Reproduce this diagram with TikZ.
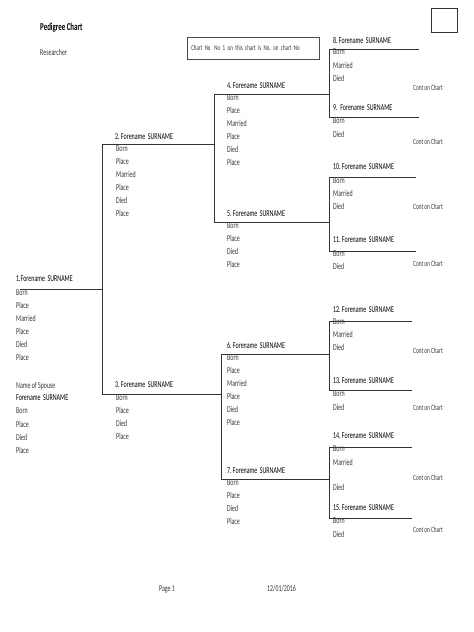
\documentclass[tikz,border=0pt]{standalone}
\usepackage{fontspec}
\setmainfont{Carlito}
\newfontfamily\narrowfont[FakeStretch=0.66, WordSpace=0.95]{Carlito}
\frenchspacing
\usetikzlibrary{positioning}

\begin{document}
\begin{tikzpicture}[x=1pt, y=-1pt,
    pname/.style={anchor=west, inner sep=0pt, text=black,
                  font=\narrowfont\fontsize{9}{11}\selectfont},
    pinfo/.style={anchor=west, inner sep=0pt, text=black!78,
                  font=\narrowfont\fontsize{9}{11}\selectfont},
    cont/.style={pinfo, font=\narrowfont\fontsize{8}{10}\selectfont},
    link/.style={draw=black!80, line width=1pt}
]
    \useasboundingbox[fill=white] (0,0) rectangle (474,632);

    % heading
    \node[pname, font=\narrowfont\bfseries\fontsize{10.5}{12}\selectfont] (title) at (40,28) {Pedigree Chart};
    \node[pinfo] (researcher) at (40,52) {Researcher};
    \node[draw=black!70, line width=.6pt, anchor=north west, minimum width=132pt,
          minimum height=22pt, inner xsep=4pt, text width=124pt, text=black!80,
          font=\narrowfont\fontsize{7.5}{9}\selectfont] (chartno) at (187,37)
          {Chart No\enspace No 1 on this chart is No. on chart No};
    \node[draw=black!80, line width=.8pt, anchor=north west, minimum width=26pt,
          minimum height=24pt, inner sep=0pt] (stamp) at (431,8) {};

    % person lines
    \foreach \n/\xa/\xb/\y in {1/20/102/289, 2/102/214/144, 3/102/221/394,
        4/214/329/94, 5/214/329/222, 6/221/329/354, 7/221/329/479,
        8/329/419/49, 9/329/419/117, 10/329/416/177, 11/329/416/251,
        12/329/412/321, 13/329/412/390, 14/329/412/447, 15/329/412/518} {
        \coordinate (s\n) at (\xa,\y);
        \coordinate (e\n) at (\xb,\y);
        \draw[link] (s\n) -- (e\n);
    }

    % parent links
    \draw[link] (s2)  -- (s3);
    \draw[link] (s4)  -- (s5);
    \draw[link] (s6)  -- (s7);
    \draw[link] (s8)  -- (s9);
    \draw[link] (s10) -- (s11);
    \draw[link] (s12) -- (s13);
    \draw[link] (s14) -- (s15);

    % names
    \node[pname] (n1)  at (16,279)  {1.Forename\ \ SURNAME};
    \node[pname] (n2)  at (115,137) {2. Forename\ \ SURNAME};
    \node[pname] (n3)  at (115,385) {3. Forename\ \ SURNAME};
    \node[pname] (n4)  at (227,86)  {4. Forename\ \ SURNAME};
    \node[pname] (n5)  at (227,214) {5. Forename\ \ SURNAME};
    \node[pname] (n6)  at (227,345) {6. Forename\ \ SURNAME};
    \node[pname] (n7)  at (227,471) {7. Forename\ \ SURNAME};
    \node[pname] (n8)  at (333,40)  {8. Forename\ \ SURNAME};
    \node[pname] (n9)  at (333,108) {9.\ \ Forename\ \ SURNAME};
    \node[pname] (n10) at (333,167) {10. Forename\ \ SURNAME};
    \node[pname] (n11) at (333,240) {11. Forename\ \ SURNAME};
    \node[pname] (n12) at (333,310) {12. Forename\ \ SURNAME};
    \node[pname] (n13) at (333,381) {13. Forename\ \ SURNAME};
    \node[pname] (n14) at (333,436) {14. Forename\ \ SURNAME};
    \node[pname] (n15) at (333,508) {15. Forename\ \ SURNAME};

    % details
    \foreach \t [count=\i] in {Born,Place,Married,Place,Died,Place}
        \node[pinfo] (d1-\i) at (16,{293+12.8*(\i-1)}) {\t};
    \foreach \t [count=\i] in {Born,Place,Married,Place,Died,Place}
        \node[pinfo] (d2-\i) at (116,{149+12.8*(\i-1)}) {\t};
    \foreach \t [count=\i] in {Born,Place,Died,Place}
        \node[pinfo] (d3-\i) at (116,{398+12.8*(\i-1)}) {\t};
    \foreach \t [count=\i] in {Born,Place,Married,Place,Died,Place}
        \node[pinfo] (d4-\i) at (227,{98+12.8*(\i-1)}) {\t};
    \foreach \t [count=\i] in {Born,Place,Died,Place}
        \node[pinfo] (d5-\i) at (227,{226+12.8*(\i-1)}) {\t};
    \foreach \t [count=\i] in {Born,Place,Married,Place,Died,Place}
        \node[pinfo] (d6-\i) at (227,{358+12.8*(\i-1)}) {\t};
    \foreach \t [count=\i] in {Born,Place,Died,Place}
        \node[pinfo] (d7-\i) at (227,{483+12.8*(\i-1)}) {\t};
    \foreach \t [count=\i] in {Born,Married,Died}
        \node[pinfo] (d8-\i) at (333,{52+13*(\i-1)}) {\t};
    \foreach \t [count=\i] in {Born,Died}
        \node[pinfo] (d9-\i) at (333,{121+13*(\i-1)}) {\t};
    \foreach \t [count=\i] in {Born,Married,Died}
        \node[pinfo] (d10-\i) at (333,{181+12.5*(\i-1)}) {\t};
    \foreach \t [count=\i] in {Born,Died}
        \node[pinfo] (d11-\i) at (333,{254+12.5*(\i-1)}) {\t};
    \foreach \t [count=\i] in {Born,Married,Died}
        \node[pinfo] (d12-\i) at (333,{322+12.5*(\i-1)}) {\t};
    \foreach \t [count=\i] in {Born,Died}
        \node[pinfo] (d13-\i) at (333,{394+13*(\i-1)}) {\t};
    \node[pinfo] (d14-1) at (333,449) {Born};
    \node[pinfo] (d14-2) at (333,462) {Married};
    \node[pinfo] (d14-3) at (333,487) {Died};
    \foreach \t [count=\i] in {Born,Died}
        \node[pinfo] (d15-\i) at (333,{521+13*(\i-1)}) {\t};

    % spouse
    \node[pinfo] (spouse) at (16,386) {Name of Spouse};
    \node[pname] (spname) at (16,398) {Forename\ \ SURNAME};
    \foreach \t [count=\i] in {Born,Place,Died,Place}
        \node[pinfo] (ds-\i) at (16,{411+13*(\i-1)}) {\t};

    % continuation notes
    \foreach \y [count=\i] in {88,142,207,264,351,408,478,530}
        \node[cont] (cont\i) at (413,\y) {Cont on Chart};

    % footer
    \node[pinfo] (page) at (159,589) {Page 1};
    \node[pinfo] (date) at (267,589) {12/01/2016};
\end{tikzpicture}
\end{document}
